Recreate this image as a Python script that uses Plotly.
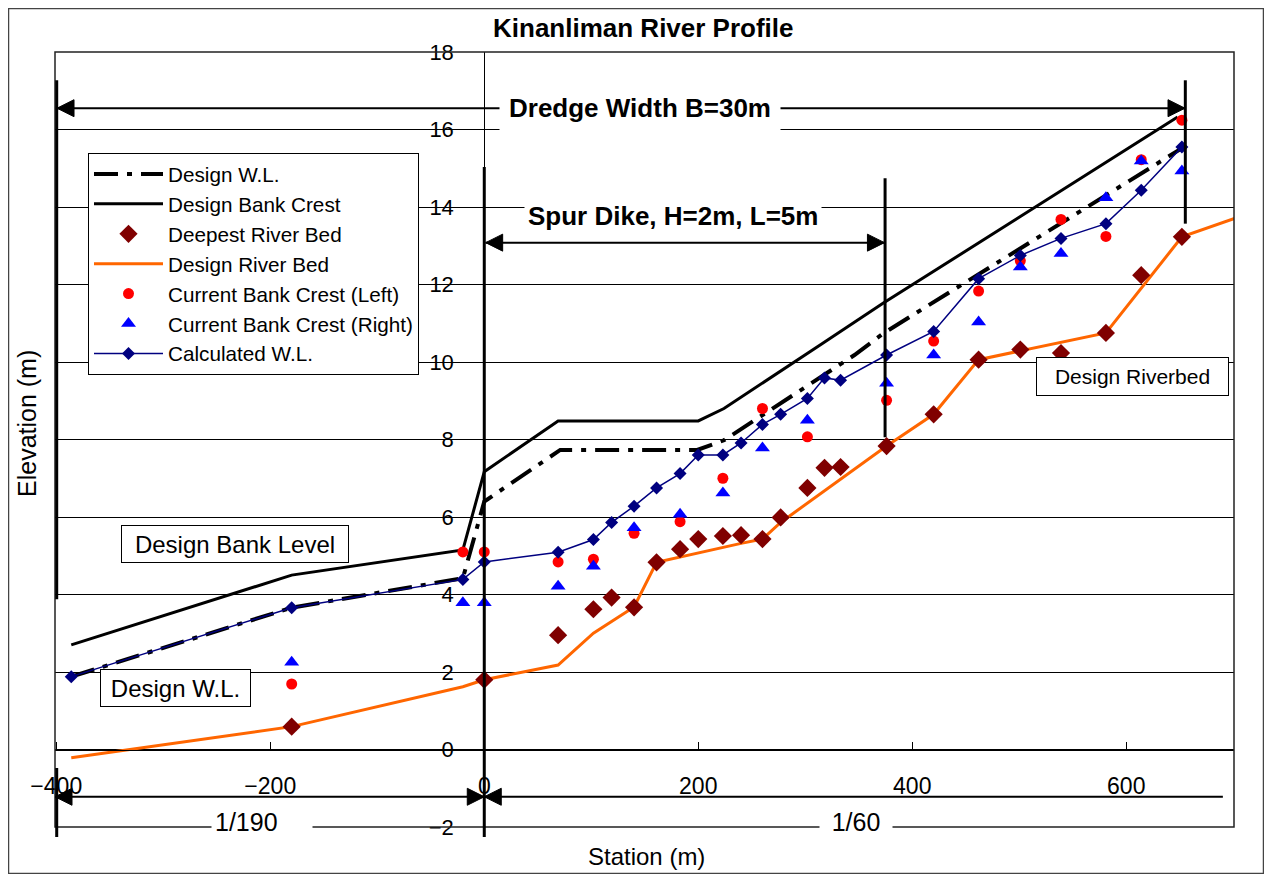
import plotly.graph_objects as go

# ---------------- data ----------------
# Calculated W.L.
calc_x = [-386, -180, -20, 0, 69, 102, 119, 140, 161, 183, 200, 223, 240, 260, 277,
          302, 318, 333, 376, 420, 462, 501, 539, 581, 614, 652]
calc_y = [1.88, 3.66, 4.39, 4.84, 5.09, 5.42, 5.86, 6.28, 6.75, 7.12, 7.60, 7.60, 7.91,
          8.39, 8.65, 9.06, 9.59, 9.53, 10.18, 10.79, 12.15, 12.75, 13.19, 13.57, 14.43, 15.55]

# Deepest River Bed
deep_x = [-180, 0, 69, 102, 119, 140, 161, 183, 200, 223, 240, 260, 277, 302, 318, 333,
          376, 420, 462, 501, 539, 581, 614, 652]
deep_y = [0.59, 1.80, 2.95, 3.62, 3.92, 3.67, 4.83, 5.17, 5.43, 5.51, 5.53, 5.43, 5.99,
          6.75, 7.27, 7.29, 7.83, 8.65, 10.06, 10.32, 10.23, 10.75, 12.24, 13.23]

# Design River Bed
bed_x = [-386, -180, -20, 0, 69, 102, 140, 161, 240, 260, 277, 376, 420, 462, 581, 652, 705]
bed_y = [-0.21, 0.59, 1.62, 1.80, 2.18, 3.00, 3.68, 4.83, 5.32, 5.43, 5.86, 7.83, 8.65,
         10.06, 10.75, 13.23, 13.74]

# Current Bank Crest (Left / Right)
bank_x = [-180, -20, 0, 69, 102, 140, 183, 223, 260, 302, 376, 420, 462, 501, 539, 581, 614, 652]
bank_left_y = [1.69, 5.10, 5.10, 4.84, 4.91, 5.58, 5.88, 7.00, 8.80, 8.07, 9.01, 10.54,
               11.83, 12.61, 13.68, 13.24, 15.22, 16.24]
bank_right_y = [2.25, 3.79, 3.79, 4.21, 4.73, 5.72, 6.07, 6.62, 7.78, 8.50, 9.45, 10.18,
                11.03, 12.45, 12.80, 14.24, 15.19, 14.93]

# Design Bank Crest
crest_x = [-386, -180, -20, 0, 69, 200, 224, 260, 316, 373, 648]
crest_y = [2.70, 4.50, 5.15, 7.17, 8.48, 8.48, 8.80, 9.45, 10.48, 11.52, 16.32]

# Design W.L.
dwl_x = [-386, -180, -20, 0, 71, 199, 224, 260, 300, 346, 373, 651]
dwl_y = [1.88, 3.66, 4.42, 6.40, 7.73, 7.73, 7.98, 8.63, 9.34, 10.18, 10.74, 15.50]

x_ticks = [-400, -200, 0, 200, 400, 600]
y_ticks = [-2, 0, 2, 4, 6, 8, 10, 12, 14, 16, 18]

# ---------------- layout constants ----------------
# the page body has an 8px margin, so the figure origin sits at (8, 8) in the window
OFF = 8
X_RANGE = [-401.2, 700.7]
Y_RANGE = [-2, 18]
PLOT_L, PLOT_R, PLOT_T, PLOT_B = 55, 1234, 52, 827   # window pixels
W, H = 1272 - 2 * OFF, 882 - 2 * OFF
ML, MT = PLOT_L - OFF, PLOT_T - OFF
MR, MB = OFF + W - PLOT_R, OFF + H - PLOT_B
PW, PH = PLOT_R - PLOT_L, PLOT_B - PLOT_T
PX_X = PW / (X_RANGE[1] - X_RANGE[0])
PX_Y = PH / (Y_RANGE[1] - Y_RANGE[0])
FONT = "Liberation Sans, Arial, sans-serif"

def pxx(px):
    return (px - PLOT_L) / PW

def pxy(py):
    return (PLOT_B - py) / PH

fig = go.Figure()

fig.add_trace(go.Scatter(x=dwl_x, y=dwl_y, mode="lines", name="Design W.L.",
                         line=dict(color="black", width=4, dash="24px,9px,5px,9px"),
                         legendrank=1))
fig.add_trace(go.Scatter(x=crest_x, y=crest_y, mode="lines", name="Design Bank Crest",
                         line=dict(color="black", width=3), legendrank=2))
fig.add_trace(go.Scatter(x=bed_x, y=bed_y, mode="lines", name="Design River Bed",
                         line=dict(color="#FF6600", width=3), legendrank=4))
fig.add_trace(go.Scatter(x=deep_x, y=deep_y, mode="markers", name="Deepest River Bed",
                         marker=dict(symbol="diamond", size=14, color="#800000"),
                         legendrank=3))
fig.add_trace(go.Scatter(x=bank_x, y=bank_left_y, mode="markers",
                         name="Current Bank Crest (Left)",
                         marker=dict(symbol="circle", size=11, color="#FF0000"),
                         legendrank=5))
fig.add_trace(go.Scatter(x=bank_x, y=bank_right_y, mode="markers",
                         name="Current Bank Crest (Right)",
                         marker=dict(symbol="triangle-up", size=13, color="#0000FF"),
                         legendrank=6))
fig.add_trace(go.Scatter(x=calc_x, y=calc_y, mode="lines+markers", name="Calculated W.L.",
                         line=dict(color="#000080", width=1.5),
                         marker=dict(symbol="diamond", size=10, color="#000080"),
                         legendrank=7))

# ---------------- shapes (dimension lines, arrows) ----------------
HEAD_L = 17 / PX_X
HEAD_H = 8.5 / PX_Y

def head(tip, y, d):
    b = tip - d * HEAD_L
    return dict(type="path", xref="x", yref="y",
                path=f"M{tip},{y} L{b},{y + HEAD_H} L{b},{y - HEAD_H} Z",
                fillcolor="black", line=dict(color="black", width=1))

def hline(x0, x1, y, w=2):
    return dict(type="line", xref="x", yref="y", x0=x0, x1=x1, y0=y, y1=y,
                line=dict(color="black", width=w))

def vline(x, y0, y1, yref="y", w=3):
    return dict(type="line", xref="x", yref=yref, x0=x, x1=x, y0=y0, y1=y1,
                line=dict(color="black", width=w))

shapes = []
# outer border & plot border
shapes.append(dict(type="rect", xref="paper", yref="paper",
                   x0=pxx(8.5), x1=pxx(1263.5), y0=pxy(873.5), y1=pxy(8.5),
                   line=dict(color="#444444", width=1.5)))
shapes.append(dict(type="rect", xref="paper", yref="paper", x0=0, x1=1, y0=0, y1=1,
                   line=dict(color="#222222", width=1.5)))
# Dredge width arrow
y_dr = 16.55
shapes += [hline(-399.3, 654.9, y_dr), head(-399.3, y_dr, -1), head(654.9, y_dr, 1)]
# Spur dike arrow
y_sp = 13.08
shapes += [hline(1.3, 374, y_sp), head(1.3, y_sp, -1), head(374, y_sp, 1)]
# bottom slope arrows
y_b = -1.22
shapes += [hline(-401.2, 690.3, y_b), head(-401.2, y_b, -1), head(0, y_b, 1), head(0, y_b, -1)]
# vertical thick lines
bottom_paper = pxy(837)
shapes += [
    vline(-399.6, 17.27, 3.88),
    vline(-399.6, pxy(768), bottom_paper, yref="paper"),
    vline(0, pxy(167), bottom_paper, yref="paper"),
    vline(374.6, 14.74, 8.06),
    vline(655.2, 17.27, 13.57),
]

# ---------------- annotations ----------------
ann = []
ann.append(dict(text="<b>Kinanliman River Profile</b>", xref="paper", yref="paper",
                x=pxx(643.5), y=pxy(28), showarrow=False, xanchor="center", yanchor="middle",
                font=dict(family=FONT, size=26, color="black")))
ann.append(dict(text="<b>Dredge Width B=30m</b>", x=146, y=y_dr, showarrow=False,
                font=dict(family=FONT, size=26, color="black"), bgcolor="white",
                borderpad=9))
ann.append(dict(text="<b>Spur Dike, H=2m, L=5m</b>", x=176.6, y=13.77, showarrow=False,
                font=dict(family=FONT, size=26, color="black"), bgcolor="white",
                borderpad=3))
box = dict(showarrow=False, bgcolor="white", bordercolor="black", borderwidth=1, borderpad=1)
ann.append(dict(text="Design Bank Level", x=-233, y=5.30, width=224, height=34,
                font=dict(family=FONT, size=24, color="black"), **box))
ann.append(dict(text="Design W.L.", x=-288.3, y=1.58, width=147, height=34,
                font=dict(family=FONT, size=24, color="black"), **box))
ann.append(dict(text="Design Riverbed", x=605.8, y=9.63, width=189, height=35,
                font=dict(family=FONT, size=21, color="black"), **box))
ann.append(dict(text="1/190", x=-207.8, y=-1.86, width=94, align="left", showarrow=False,
                bgcolor="white", borderpad=3,
                font=dict(family=FONT, size=25, color="black")))
ann.append(dict(text="1/60", x=347.4, y=-1.86, width=68, showarrow=False,
                bgcolor="white", borderpad=2,
                font=dict(family=FONT, size=25, color="black")))
ann.append(dict(text="Elevation (m)", xref="paper", yref="paper",
                x=pxx(27), y=pxy(424), textangle=-90, xanchor="center", yanchor="middle",
                showarrow=False, font=dict(family=FONT, size=25, color="black")))
ann.append(dict(text="Station (m)", xref="paper", yref="paper",
                x=pxx(646), y=pxy(872), xanchor="center", yanchor="bottom", showarrow=False,
                font=dict(family=FONT, size=24, color="black")))

fig.update_layout(
    width=W, height=H,
    margin=dict(l=ML, r=MR, t=MT, b=MB, pad=0),
    paper_bgcolor="white", plot_bgcolor="white",
    font=dict(family=FONT, color="black"),
    shapes=shapes, annotations=ann,
    legend=dict(x=pxx(88), y=pxy(153), xanchor="left", yanchor="top",
                bgcolor="white", bordercolor="black", borderwidth=1,
                font=dict(family=FONT, size=20.7, color="black"),
                itemwidth=69, traceorder="normal"),
)
fig.update_xaxes(range=X_RANGE, anchor="free",
                 position=(0 - Y_RANGE[0]) / (Y_RANGE[1] - Y_RANGE[0]),
                 tickvals=x_ticks, showline=True, linecolor="black", linewidth=1,
                 ticks="inside", ticklen=8, tickcolor="black", showgrid=False,
                 zeroline=False, tickfont=dict(family=FONT, size=23, color="black"),
                 ticklabelstandoff=16)
fig.update_yaxes(range=Y_RANGE, anchor="free",
                 position=(0 - X_RANGE[0]) / (X_RANGE[1] - X_RANGE[0]),
                 tickvals=y_ticks, showline=True, linecolor="black", linewidth=1,
                 ticks="", showgrid=True, gridcolor="black", gridwidth=1,
                 zeroline=False, tickfont=dict(family=FONT, size=22, color="black"),
                 ticklabelstandoff=26)

fig.write_html("out.html")
